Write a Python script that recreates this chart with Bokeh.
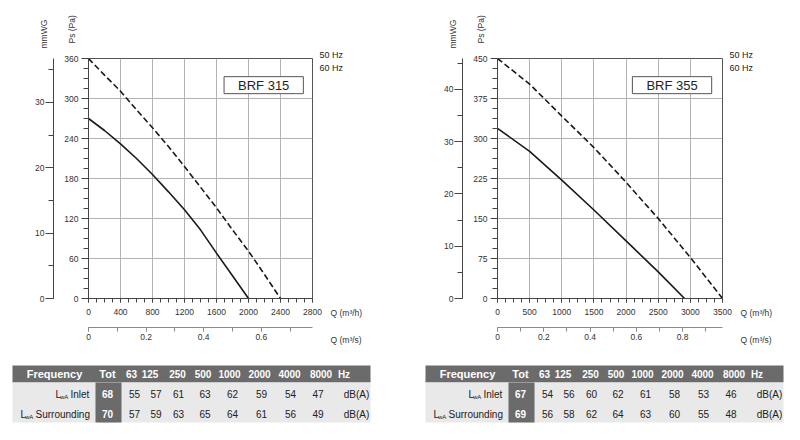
from math import pi
from bokeh.plotting import figure
from bokeh.layouts import column, row
from bokeh.models import (Range1d, LinearAxis, SingleIntervalTicker, NumeralTickFormatter,
                          Label, ColumnDataSource)
from bokeh.core.properties import value
from bokeh.embed import file_html
from bokeh.resources import INLINE

FONT = "Liberation Sans"
PA_PER_MMWG = 9.80665
M3H_PER_M3S = 3600.0

# BRF 315 curves (Q in m3/h, Ps in Pa)
q315_50 = [0, 200, 400, 600, 800, 1000, 1200, 1400, 1600, 1800, 2000]
ps315_50 = [270, 252, 232, 210, 186, 160, 133, 103, 68, 34, 0]
q315_60 = [0, 200, 400, 600, 800, 1000, 1200, 1400, 1600, 1800, 2000, 2200, 2400]
ps315_60 = [360, 335, 311, 283, 256, 228, 198, 167, 136, 103, 71, 36, 0]

# BRF 355 curves
q355_50 = [0, 500, 1000, 1500, 2000, 2500, 2910]
ps355_50 = [319, 276, 222, 166, 108, 50, 0]
q355_60 = [0, 500, 1000, 1500, 2000, 2500, 3000, 3500]
ps355_60 = [450, 402, 342, 283, 218, 150, 77, 0]

# sound table
freqs = ["63", "125", "250", "500", "1000", "2000", "4000", "8000"]
brf315_tot = [68, 70]
brf315_inlet = [55, 57, 61, 63, 62, 59, 54, 47]
brf315_surr = [57, 59, 63, 65, 64, 61, 56, 49]
brf355_tot = [67, 69]
brf355_inlet = [54, 56, 60, 62, 61, 58, 53, 46]
brf355_surr = [56, 58, 62, 64, 63, 60, 55, 48]

TXT = "#333333"


def style_axis(ax):
    ax.major_label_text_font = FONT
    ax.major_label_text_font_size = "8.5px"
    ax.major_label_text_color = TXT
    ax.axis_line_color = "#444444"
    ax.major_tick_line_color = "#444444"
    ax.minor_tick_line_color = "#444444"
    ax.major_tick_in = 0
    ax.minor_tick_in = 0


def make_chart(title, q50, ps50, q60, ps60, qmax, qstep, pmax, pstep, frame_w, border_r, box_at):
    total_w = 88 + frame_w + border_r
    p = figure(frame_width=frame_w, frame_height=240, min_border_left=88, min_border_right=border_r,
               min_border_top=58, min_border_bottom=65,
               x_range=Range1d(0, qmax), y_range=Range1d(0, pmax),
               output_backend="svg", toolbar_location=None)
    p.width_policy = "min"
    p.height_policy = "min"
    p.max_width = total_w
    p.outline_line_color = "#555555"
    p.border_fill_color = "white"

    xt = SingleIntervalTicker(interval=qstep, num_minor_ticks=4)
    yt = SingleIntervalTicker(interval=pstep, num_minor_ticks=4)
    p.xaxis.ticker = xt
    p.xgrid.ticker = xt
    p.yaxis.ticker = yt
    p.ygrid.ticker = yt
    p.grid.grid_line_color = "#b3b3b3"

    xa = p.xaxis[0]
    style_axis(xa)
    xa.major_tick_out = 4
    xa.minor_tick_out = 4
    xa.major_label_standoff = 6
    xa.axis_label = " "
    xa.axis_label_standoff = 0
    xa.axis_label_text_font_size = "6.2px"

    ya = p.yaxis[0]
    style_axis(ya)
    ya.major_tick_out = 7
    ya.minor_tick_out = 5
    ya.major_label_standoff = 3
    ya.axis_label = " "
    ya.axis_label_standoff = 0
    ya.axis_label_text_font_size = "4.1px"

    # mmWG scale, same pressure in other units
    p.extra_y_ranges = {"wg": Range1d(0, pmax / PA_PER_MMWG)}
    wg = LinearAxis(y_range_name="wg", ticker=SingleIntervalTicker(interval=10, num_minor_ticks=2))
    style_axis(wg)
    wg.major_tick_out = 8
    wg.minor_tick_out = 5
    wg.major_label_standoff = 1
    p.add_layout(wg, "left")

    # m3/s scale
    p.extra_x_ranges = {"ms": Range1d(0, qmax / M3H_PER_M3S)}
    ms = LinearAxis(x_range_name="ms", ticker=SingleIntervalTicker(interval=0.2, num_minor_ticks=2),
                    formatter=NumeralTickFormatter(format="0.[0]"))
    style_axis(ms)
    ms.axis_line_color = "#8a8a8a"
    ms.major_tick_line_color = "#8a8a8a"
    ms.minor_tick_line_color = "#8a8a8a"
    ms.major_tick_out = 4
    ms.minor_tick_out = 4
    ms.major_label_standoff = 2
    p.add_layout(ms, "below")

    p.line(q50, ps50, line_color="#1a1a1a", line_width=1.6)
    p.line(q60, ps60, line_color="#1a1a1a", line_width=1.6, line_dash="6 3")

    # texts outside the frame live in the left / right panels so they are not clipped
    p.add_layout(Label(x=qmax, y=pmax, x_offset=7, y_offset=9, text="50 Hz\n60 Hz",
                       text_baseline="top", text_line_height=1.37, text_font=FONT,
                       text_font_size="9px", text_color="#222222"), "right")
    lab = dict(text_font=FONT, text_font_size="8.5px", text_color=TXT)
    p.add_layout(Label(x=qmax, y=0, x_offset=18, y_offset=-9, text="Q (m³/h)\nQ (m³/s)",
                       text_baseline="top", text_line_height=2.7, **lab), "right")
    p.add_layout(Label(x=0, y=pmax, x_offset=-44.5, y_offset=10, text="mmWG", angle=pi / 2,
                       text_align="left", text_baseline="middle", **lab), "left")
    p.add_layout(Label(x=0, y=pmax, x_offset=-16.5, y_offset=15, text="Ps (Pa)", angle=pi / 2,
                       text_align="left", text_baseline="middle", **lab), "left")

    p.add_layout(Label(x=box_at[0], y=box_at[1], text=title, text_align="center", text_baseline="middle",
                       text_font=FONT, text_font_size="13px", text_color="#222222",
                       border_line_color="#555555", background_fill_color="white",
                       padding=dict(left=14, right=14, top=1, bottom=1)))
    return p


def make_table(tot, inlet, surr, x0, width):
    t = figure(width=width, height=61, x_range=Range1d(0, width), y_range=Range1d(61, 0),
               output_backend="svg", toolbar_location=None, min_border=0,
               x_axis_type=None, y_axis_type=None)
    t.grid.visible = False
    t.outline_line_color = None

    dark = "#6b6b6b"
    t.quad(left=x0, right=x0 + 358, top=2, bottom=19, fill_color=dark, line_color=None)
    t.quad(left=x0, right=x0 + 358, top=19, bottom=59, fill_color="#e9e9e9", line_color=None)
    t.quad(left=x0 + 83, right=x0 + 109, top=19, bottom=59, fill_color=dark, line_color=None)

    hdr_cx = [119, 137.5, 165, 190.5, 217, 247, 277, 308.5, 331.5]
    val_cx = [122, 143.5, 166, 192.5, 220, 249, 278, 305.5]
    row_y = [30.5, 50.5]

    def txt(xs, ys, texts, color, size="10px", style="normal", align="center"):
        src = ColumnDataSource(dict(x=xs, y=ys, text=texts))
        t.text(x="x", y="y", text="text", source=src, text_font=value(FONT),
               text_font_size=value(size), text_color=color, text_font_style=style,
               text_align=align, text_baseline="middle")

    txt([x0 + 42, x0 + 95], [10.5, 10.5], ["Frequency", "Tot"], "white", size="11px", style="bold")
    header = freqs + ["Hz"]
    txt([x0 + c for c in hdr_cx], [10.5] * len(header), header, "white", style="bold")

    for i, vals in enumerate([inlet, surr]):
        txt([x0 + 95], [row_y[i]], [str(tot[i])], "white", style="bold")
        txt([x0 + c for c in val_cx], [row_y[i]] * len(vals), [str(v) for v in vals], "#222222")
        txt([x0 + 344], [row_y[i]], ["dB(A)"], "#222222")

    # L_wA labels
    txt([x0 + 43, x0 + 8], row_y, ["L", "L"], "#222222", align="left")
    txt([x0 + 47.5, x0 + 12.5], [y + 3 for y in row_y], ["wA", "wA"], "#222222", size="6px", align="left")
    txt([x0 + 58, x0 + 23], row_y, ["Inlet", "Surrounding"], "#222222", align="left")
    return t


c1 = make_chart("BRF 315", q315_50, ps315_50, q315_60, ps315_60, 2800, 400, 360, 60,
                224, 97, (2190, 320))
c2 = make_chart("BRF 355", q355_50, ps355_50, q355_60, ps355_60, 3500, 500, 450, 75,
                225, 62, (2715, 400))

t1 = make_table(brf315_tot, brf315_inlet, brf315_surr, 12, 409)
t2 = make_table(brf355_tot, brf355_inlet, brf355_surr, 16, 375)

layout = column(row(c1, c2), row(t1, t2))
open("out.html", "w").write(file_html(layout, INLINE))
